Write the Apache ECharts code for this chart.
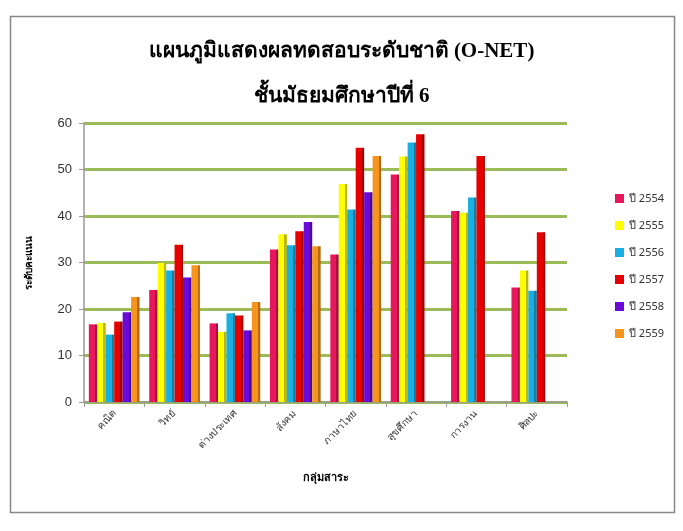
<!DOCTYPE html>
<html>
<head>
<meta charset="utf-8">
<script src="https://cdn.jsdelivr.net/npm/echarts@6/dist/echarts.min.js"></script>
<style>
html,body{margin:0;padding:0;background:#fff;}
#chart{width:683px;height:531px;}
</style>
</head>
<body>
<div id="chart"></div>
<script>
const categories = ['คณิต', 'วิทย์', 'ต่างประเทศ', 'สังคม', 'ภาษาไทย', 'สุขศึกษา', 'การงาน', 'ศิลปะ'];
const yTicks = [0, 10, 20, 30, 40, 50, 60];
const seriesNames = ['ปี 2554', 'ปี 2555', 'ปี 2556', 'ปี 2557', 'ปี 2558', 'ปี 2559'];
const y2554 = [16.7, 24.1, 16.9, 32.8, 31.7, 48.9, 41.1, 24.6];
const y2555 = [17.0, 29.9, 15.1, 36.1, 46.9, 52.8, 40.7, 28.3];
const y2556 = [14.5, 28.3, 19.1, 33.7, 41.4, 55.8, 44.0, 23.9];
const y2557 = [17.3, 33.8, 18.6, 36.7, 54.7, 57.6, 52.9, 36.5];
const y2558 = [19.3, 26.8, 15.4, 38.7, 45.1, 0, 0, 0];
const y2559 = [22.6, 29.4, 21.5, 33.5, 52.9, 0, 0, 0];
const colors = ['#E8175D', '#FFFF00', '#1AAFE3', '#E60000', '#6A0AD8', '#F7941D'];
const sideColors = ['#A8103F', '#B8B800', '#117FA6', '#A00000', '#4A069A', '#B36A12'];

const allData = [y2554, y2555, y2556, y2557, y2558, y2559];
const chart = echarts.init(document.getElementById('chart'));
const thaiFont = '"Noto Sans", "DejaVu Sans", sans-serif';
chart.setOption({
  animation: false,
  backgroundColor: '#fff',
  color: colors,
  graphic: [{
    type: 'rect', left: 8, top: 14, shape: {width: 664, height: 496},
    style: {fill: 'none', stroke: '#888', lineWidth: 1.5}, silent: true
  }],
  title: {
    text: 'แผนภูมิแสดงผลทดสอบระดับชาติ (O-NET)\nชั้นมัธยมศึกษาปีที่ 6',
    left: 'center', top: 24,
    textStyle: {fontFamily: '"Liberation Serif", serif', fontWeight: 'bold', fontSize: 21, lineHeight: 45, color: '#000'}
  },
  legend: {
    orient: 'vertical', left: 610, top: 188, itemGap: 16,
    icon: 'rect', itemWidth: 9, itemHeight: 9,
    data: seriesNames.map((n, i) => ({name: n, itemStyle: {color: colors[i]}})),
    textStyle: {fontSize: 11, color: '#333', fontFamily: thaiFont}
  },
  grid: {left: 84, right: 116, top: 123, bottom: 129},
  xAxis: {
    type: 'category', data: categories,
    name: 'กลุ่มสาระ', nameLocation: 'middle', nameGap: 70,
    nameTextStyle: {fontSize: 11, fontWeight: 'bold', color: '#000', fontFamily: thaiFont},
    axisLine: {lineStyle: {color: '#999', width: 1.5}},
    axisTick: {show: true, lineStyle: {color: '#999'}},
    axisLabel: {rotate: 45, fontSize: 10, color: '#333', fontFamily: thaiFont, margin: 10}
  },
  yAxis: {
    type: 'value', min: yTicks[0], max: yTicks[yTicks.length - 1], interval: 10,
    name: 'ระดับคะแนน', nameLocation: 'middle', nameGap: 50,
    nameTextStyle: {fontSize: 10, fontWeight: 'bold', color: '#000', fontFamily: thaiFont},
    axisLine: {show: true, lineStyle: {color: '#999', width: 1.5}},
    axisTick: {show: true, lineStyle: {color: '#999'}},
    axisLabel: {fontSize: 13, color: '#333', margin: 12},
    splitLine: {lineStyle: {color: '#9BBB59', width: 3}}
  },
  series: seriesNames.map((n, i) => ({
    name: n, type: 'bar', data: allData[i],
    barGap: '0%', barCategoryGap: '16%',
    itemStyle: {
      color: new echarts.graphic.LinearGradient(0, 0, 1, 0, [
        {offset: 0, color: colors[i]},
        {offset: 0.72, color: colors[i]},
        {offset: 0.72, color: sideColors[i]},
        {offset: 1, color: sideColors[i]}
      ])
    }
  }))
});
</script>
</body>
</html>
